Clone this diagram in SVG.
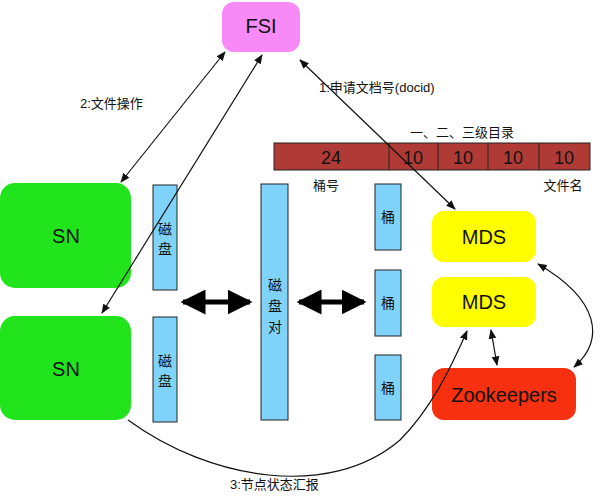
<svg xmlns="http://www.w3.org/2000/svg" width="600" height="501" viewBox="0 0 600 501">
<style>
text{font-family:"Liberation Sans","Noto Sans CJK SC",sans-serif;fill:#111}
.blue{fill:#7fd3fb;stroke:#222;stroke-width:1}
.bar{fill:#b03a36;stroke:#222;stroke-width:1}
.ln{fill:none;stroke:#111;stroke-width:1.2}
.big{font-size:20px;text-anchor:middle}
.v{font-size:14px;text-anchor:middle}
.l{font-size:13px}
</style>
<defs>
<marker id="a" viewBox="0 0 10 10" refX="9" refY="5" markerWidth="8" markerHeight="8" orient="auto-start-reverse"><path d="M0,1 L10,5 L0,9 z" fill="#111"/></marker>
<marker id="b" viewBox="0 0 10 10" refX="9" refY="5" markerWidth="5" markerHeight="5" orient="auto-start-reverse"><path d="M0,0 L10,5 L0,10 z" fill="#000"/></marker>
</defs>
<g id="fsi"><rect x="222" y="2" width="78" height="50" rx="12" fill="#f78af7"/><text class="big" x="261" y="33" font-size="18">FSI</text></g>
<g id="sn1"><rect x="0" y="183" width="131" height="105" rx="15" fill="#22e41c"/><text class="big" x="66" y="243">SN</text></g>
<g id="sn2"><rect x="0" y="316" width="131" height="104" rx="15" fill="#22e41c"/><text class="big" x="66" y="376">SN</text></g>
<g id="disk1"><rect class="blue" x="153" y="185" width="24" height="105"/><text class="v" x="165" y="234">磁</text><text class="v" x="165" y="254">盘</text></g>
<g id="disk2"><rect class="blue" x="153" y="317" width="24" height="105"/><text class="v" x="165" y="366">磁</text><text class="v" x="165" y="386">盘</text></g>
<g id="diskpair"><rect class="blue" x="261" y="184" width="27" height="236"/><text class="v" x="275" y="290">磁</text><text class="v" x="275" y="311">盘</text><text class="v" x="275" y="332">对</text></g>
<g id="b1"><rect class="blue" x="375" y="184" width="26" height="66"/><text class="v" x="388" y="222">桶</text></g>
<g id="b2"><rect class="blue" x="375" y="270" width="26" height="66"/><text class="v" x="388" y="308">桶</text></g>
<g id="b3"><rect class="blue" x="375" y="355" width="26" height="65"/><text class="v" x="388" y="393">桶</text></g>
<g id="mds1"><rect x="432" y="211" width="104" height="51" rx="12" fill="#ffff00"/><text class="big" x="484" y="244" font-size="19">MDS</text></g>
<g id="mds2"><rect x="432" y="277" width="104" height="50" rx="12" fill="#ffff00"/><text class="big" x="484" y="309" font-size="19">MDS</text></g>
<g id="zk"><rect x="432" y="368" width="144" height="52" rx="12" fill="#f7300f"/><text class="big" x="504" y="402" font-size="19">Zookeepers</text></g>
<g id="docid">
<rect class="bar" x="274" y="143" width="316" height="27"/>
<path d="M389,143V170M438,143V170M488,143V170M539,143V170" stroke="#222"/>
<g font-size="18" text-anchor="middle"><text x="331" y="164">24</text><text x="413" y="164">10</text><text x="463" y="164">10</text><text x="513" y="164">10</text><text x="564" y="164">10</text></g>
<text class="l" x="462" y="137" text-anchor="middle">一、二、三级目录</text>
<text class="l" x="326" y="190" text-anchor="middle">桶号</text>
<text class="l" x="563" y="190" text-anchor="middle">文件名</text>
</g>
<g id="connectors">
<line class="ln" x1="225" y1="52" x2="121" y2="182" marker-start="url(#a)" marker-end="url(#a)"/>
<line class="ln" x1="262" y1="55" x2="102" y2="313" marker-start="url(#a)" marker-end="url(#a)"/>
<line class="ln" x1="300" y1="60" x2="455" y2="209" marker-start="url(#a)" marker-end="url(#a)"/>
<path class="ln" d="M538,264 C600,300 605,340 574,367" marker-start="url(#a)" marker-end="url(#a)"/>
<line class="ln" x1="491" y1="330" x2="497" y2="365" marker-start="url(#a)" marker-end="url(#a)"/>
<path class="ln" d="M128,420 C210,480 330,500 400,440 C430,410 450,370 467,331" marker-end="url(#a)"/>
<line x1="183" y1="302" x2="250" y2="302" stroke="#000" stroke-width="5" marker-start="url(#b)" marker-end="url(#b)"/>
<line x1="299" y1="302" x2="364" y2="302" stroke="#000" stroke-width="5" marker-start="url(#b)" marker-end="url(#b)"/>
<text class="l" x="80" y="108">2:文件操作</text>
<text class="l" x="319" y="92">1:申请文档号(docid)</text>
<text class="l" x="230" y="489">3:节点状态汇报</text>
</g>
</svg>
